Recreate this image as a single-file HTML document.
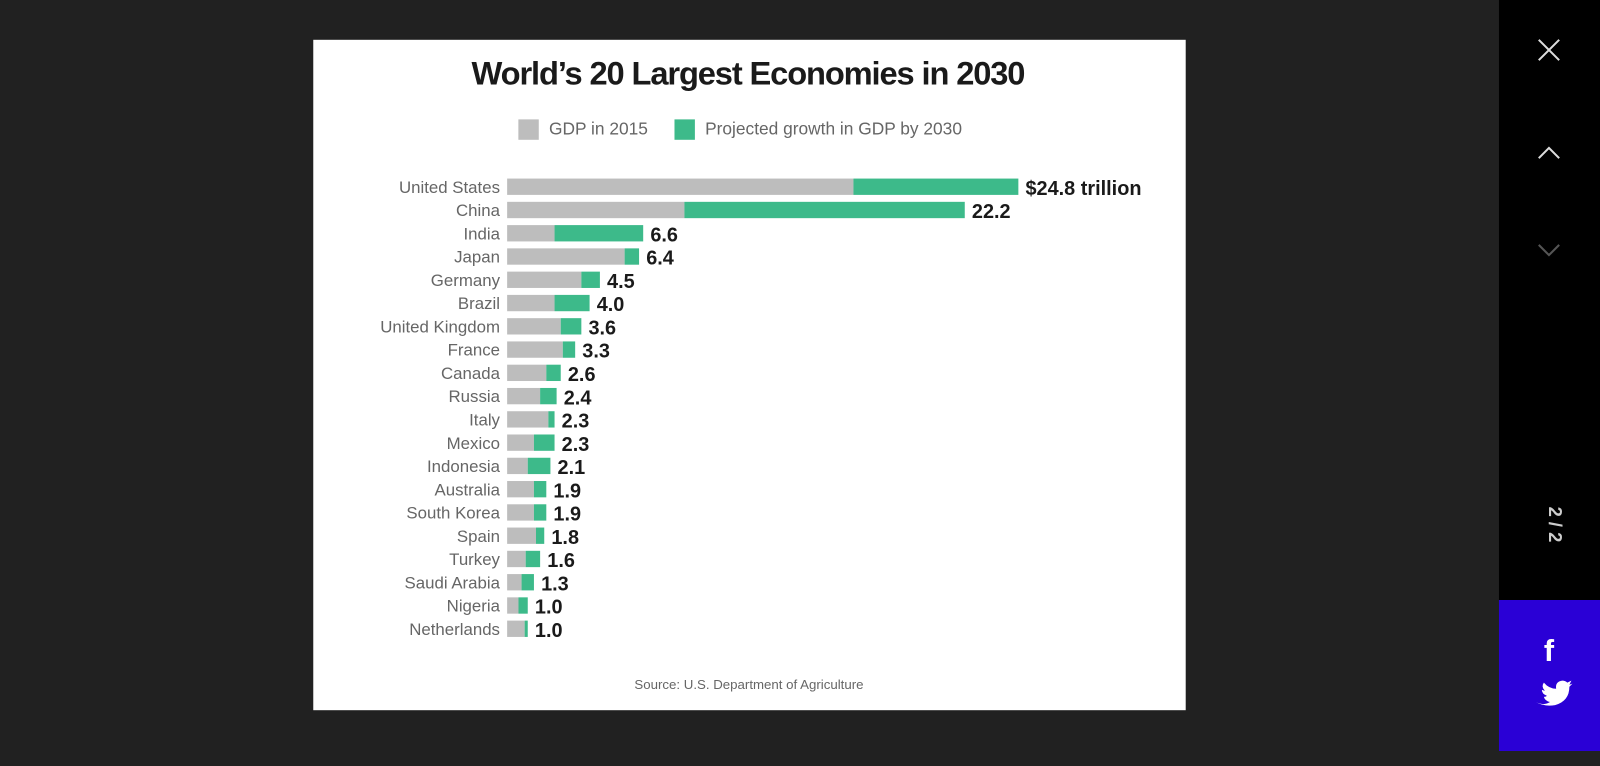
<!DOCTYPE html>
<html><head><meta charset="utf-8"><style>
body{margin:0;width:1600px;height:751px;background:#212121;overflow:hidden;font-family:"Liberation Sans",sans-serif;position:relative}
#wrap{position:absolute;left:0;top:0;width:1600px;height:751px;transform:scale(1.0204);transform-origin:0 0}
#card{position:absolute;left:307px;top:39px;width:855px;height:657px;background:#fff}
#side{position:absolute;left:1469px;top:0;width:140px;height:588px;background:#000}
#blue{position:absolute;left:1469px;top:588px;width:140px;height:148px;background:#2a00d6}
</style></head><body>
<div id="wrap">
<div id="card">
<svg id="chart" width="855" height="657">
<text x="426" y="44" text-anchor="middle" font-size="32" font-weight="bold" fill="#1a1a1a" letter-spacing="-1.1">World’s 20 Largest Economies in 2030</text>
<g>
<rect x="201" y="78" width="20" height="20" fill="#bdbdbd"/>
<text x="231" y="93" font-size="17" fill="#666">GDP in 2015</text>
<rect x="354" y="78" width="20" height="20" fill="#3dba8a"/>
<text x="384" y="93" font-size="17" fill="#666">Projected growth in GDP by 2030</text>
</g>
<g id="bars"></g>
<text x="427" y="636" text-anchor="middle" font-size="13" fill="#666">Source: U.S. Department of Agriculture</text>
</svg>
</div>
<div id="side">
<svg width="131" height="588">
<g stroke="#ddd" stroke-width="2" fill="none">
<path d="M39 39 L59 59 M59 39 L39 59"/>
<path d="M39 155 L49 145 L59 155"/>
<path d="M39 240 L49 250 L59 240" stroke="#555"/>
</g>
<text x="49" y="514" transform="rotate(90 49 514)" text-anchor="middle" font-size="18" font-weight="bold" fill="#ccc">2 / 2</text>
</svg>
</div>
<div id="blue">
<svg width="131" height="148">
<text x="49" y="60" text-anchor="middle" font-size="30" font-weight="bold" fill="#fff">f</text>
<path d="M36 100 q8 4 14 0 q-5 -1 -6 -5 q2 0 3 -1 q-5 -2 -5 -6 q2 1 3 1 q-4 -4 -1 -8 q5 6 12 6 q-1 -7 6 -8 q3 0 5 2 l4 -2 l-2 4 l3 -1 l-3 3 q0 14 -14 18 q-10 2 -19 -3z" fill="#fff"/>
</svg>
</div>
</div>
<script>
const countries=["United States","China","India","Japan","Germany","Brazil","United Kingdom","France","Canada","Russia","Italy","Mexico","Indonesia","Australia","South Korea","Spain","Turkey","Saudi Arabia","Nigeria","Netherlands"];
const gdp2015=[16.8,8.6,2.3,5.7,3.6,2.3,2.6,2.7,1.9,1.6,2.0,1.3,1.0,1.3,1.3,1.4,0.9,0.7,0.55,0.85];
const gdp2030=[24.8,22.2,6.6,6.4,4.5,4.0,3.6,3.3,2.6,2.4,2.3,2.3,2.1,1.9,1.9,1.8,1.6,1.3,1.0,1.0];
const valueLabels=["$24.8 trillion","22.2","6.6","6.4","4.5","4.0","3.6","3.3","2.6","2.4","2.3","2.3","2.1","1.9","1.9","1.8","1.6","1.3","1.0","1.0"];
const NS="http://www.w3.org/2000/svg";
const x0=190, pxPer=501/24.8;
const xs=v=>x0+v*pxPer;
const ys=i=>136+i*22.8;
const g=document.getElementById('bars');
function mk(tag,attrs){const e=document.createElementNS(NS,tag);for(const k in attrs)e.setAttribute(k,attrs[k]);g.appendChild(e);return e;}
countries.forEach((c,i)=>{
  const y=ys(i);
  const t=mk('text',{x:183,y:y+14,'text-anchor':'end','font-size':16.5,fill:'#666'});t.textContent=c;
  
  
  const r1=mk('rect',{x:x0,y:y,width:xs(gdp2015[i])-x0,height:16,fill:'#bdbdbd'});
  
  
  const r2=mk('rect',{x:xs(gdp2015[i]),y:y,width:xs(gdp2030[i])-xs(gdp2015[i]),height:16,fill:'#3dba8a'});
  
  
  const v=mk('text',{x:xs(gdp2030[i])+7,y:y+16,'font-size':19.5,'font-weight':'bold',fill:'#1a1a1a'});v.textContent=valueLabels[i];
  
  
});
</script>
</body></html>
